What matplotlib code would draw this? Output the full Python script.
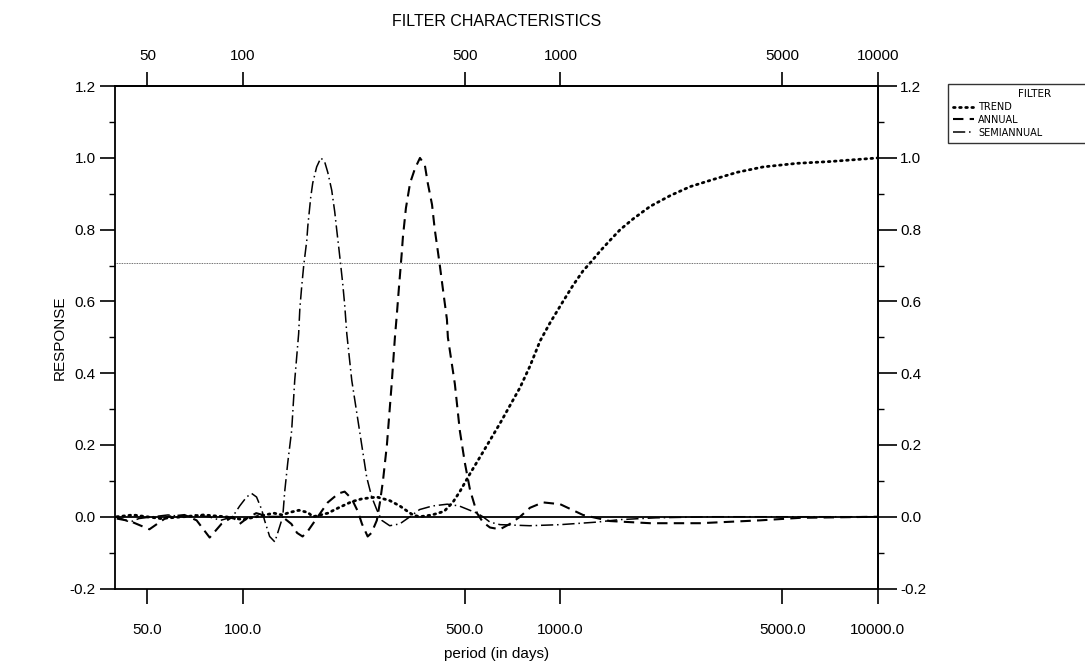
import matplotlib
matplotlib.use('Agg')
import matplotlib.pyplot as plt
from matplotlib.ticker import FixedLocator, NullLocator, MultipleLocator

plt.rcParams['font.family'] = ['Liberation Sans', 'DejaVu Sans']

# trend filter (low pass)
trend_period = [40, 45, 55, 65, 75, 88, 100, 110, 125, 133,
                140, 150, 160, 166, 185, 200, 220, 237, 264, 290,
                312, 330, 343, 360, 394, 430, 458, 482, 519, 570,
                645, 746, 802, 863, 927, 1019, 1096, 1178, 1240, 1333,
                1432, 1542, 1694, 1918, 2218, 2564, 3030, 3606, 4356, 5574,
                7085, 10000]
trend_resp = [0.0, 0.005, -0.005, 0.0, 0.005, 0.0, -0.008, 0.0, 0.01, 0.005,
              0.012, 0.018, 0.012, 0.0, 0.01, 0.025, 0.042, 0.05, 0.055, 0.045,
              0.03, 0.015, 0.005, 0.0, 0.005, 0.015, 0.04, 0.07, 0.12, 0.18,
              0.26, 0.36, 0.42, 0.49, 0.54, 0.60, 0.645, 0.685, 0.707, 0.74,
              0.77, 0.80, 0.83, 0.865, 0.895, 0.92, 0.94, 0.96, 0.975, 0.985,
              0.99, 1.0]

# annual band pass
annual_period = [40, 44, 50.7, 57.8, 65.4, 71.4, 78.5, 85.5, 92.7, 97.6,
                 102.6, 110, 121, 133, 142, 148, 154, 160, 172, 185,
                 200, 209, 220, 230, 237, 247, 254, 264, 270, 276,
                 284, 294, 301, 305, 310, 316, 319, 326, 336, 348,
                 361, 374, 382, 394, 402, 411, 417, 427, 439, 442,
                 465, 482, 500, 519, 546, 570, 600, 645, 693, 746,
                 802, 881, 998, 1178, 1432, 1918, 2754, 4266, 5700, 10000]
annual_resp = [-0.005, -0.012, -0.035, 0.0, 0.005, -0.01, -0.058, -0.02, 0.0, -0.02,
               -0.005, 0.01, 0.0, 0.0, -0.02, -0.045, -0.055, -0.04, 0.0, 0.04,
               0.065, 0.07, 0.05, 0.015, -0.02, -0.055, -0.045, -0.01, 0.04, 0.10,
               0.20, 0.37, 0.50, 0.56, 0.64, 0.73, 0.78, 0.86, 0.93, 0.97,
               1.0, 0.98, 0.93, 0.87, 0.80, 0.74, 0.70, 0.63, 0.55, 0.50,
               0.37, 0.24, 0.15, 0.075, 0.01, -0.015, -0.03, -0.035, -0.02, 0.0,
               0.025, 0.04, 0.035, 0.005, -0.012, -0.018, -0.018, -0.01, -0.003, 0.0]

# semiannual band pass
semi_period = [40, 44, 47, 52, 58, 65, 71, 78, 85, 92.7,
               97.6, 102.6, 106.4, 110.3, 114.5, 116.9, 121.3, 125.9, 128.6, 133.4,
               135.3, 138.3, 142.3, 145.5, 149.7, 151, 153, 155.3, 158.8, 160,
               163.4, 165.8, 170.6, 175.8, 180.7, 184.9, 190.3, 194.5, 197.3, 200.3,
               203.2, 206.1, 209.1, 212.3, 220.1, 228.2, 236.6, 245.3, 254.4, 263.8,
               273.6, 289.9, 311.7, 335.7, 360, 395, 440, 480, 546, 570,
               600, 645, 800, 1000, 1300, 1540, 2000, 3000, 10000]
semi_resp = [0.0, -0.015, -0.005, 0.0, 0.005, 0.0, 0.005, 0.0, -0.01, 0.0,
             0.03, 0.055, 0.065, 0.055, 0.02, -0.01, -0.055, -0.07, -0.045, 0.0,
             0.07, 0.15, 0.24, 0.38, 0.51, 0.58, 0.64, 0.70, 0.77, 0.81,
             0.89, 0.93, 0.975, 1.0, 0.99, 0.96, 0.91, 0.85, 0.80, 0.75,
             0.70, 0.65, 0.59, 0.51, 0.38, 0.29, 0.20, 0.11, 0.055, 0.02,
             -0.01, -0.025, -0.02, 0.0, 0.02, 0.03, 0.035, 0.03, 0.01, 0.0,
             -0.015, -0.022, -0.025, -0.022, -0.015, -0.008, -0.003, 0.0, 0.0]

half_power = 0.707

xticks = [50, 100, 500, 1000, 5000, 10000]
xlabels_bottom = ['50.0', '100.0', '500.0', '1000.0', '5000.0', '10000.0']
xlabels_top = ['50', '100', '500', '1000', '5000', '10000']
yticks = [-0.2, 0.0, 0.2, 0.4, 0.6, 0.8, 1.0, 1.2]
ylabels = ['-0.2', '0.0', '0.2', '0.4', '0.6', '0.8', '1.0', '1.2']

fig = plt.figure(figsize=(10.85, 6.68), dpi=100)
ax = fig.add_axes([0.106, 0.119, 0.703, 0.752])

ax.plot(trend_period, trend_resp, color='black', lw=2.0,
        linestyle=(0, (0.6, 1.6)), dash_capstyle='round', label='TREND')
ax.plot(annual_period, annual_resp, color='black', lw=1.5,
        linestyle=(0, (5, 3)), label='ANNUAL')
ax.plot(semi_period, semi_resp, color='black', lw=1.1,
        linestyle=(0, (8, 2.5, 1, 2.5)), label='SEMIANNUAL')

# zero line and half power line
ax.axhline(0.0, color='black', lw=1.3)
ax.axhline(half_power, color='0.25', lw=0.6, linestyle=(0, (1, 1)))

ax.set_xscale('log')
ax.set_xlim(39.5, 10000)
ax.set_ylim(-0.2, 1.2)

ax.xaxis.set_major_locator(FixedLocator(xticks))
ax.xaxis.set_minor_locator(NullLocator())
ax.set_xticklabels(xlabels_bottom)
ax.yaxis.set_major_locator(FixedLocator(yticks))
ax.yaxis.set_minor_locator(MultipleLocator(0.1))
ax.set_yticklabels(ylabels)

ax.tick_params(axis='both', which='major', direction='out', length=11, width=1.2,
               labelsize=11)
ax.tick_params(axis='y', which='minor', direction='out', length=4, width=1.0)
ax.tick_params(axis='x', which='major', pad=14)
ax.tick_params(axis='y', which='major', pad=3)

# top axis
top = ax.secondary_xaxis('top')
top.xaxis.set_major_locator(FixedLocator(xticks))
top.xaxis.set_minor_locator(NullLocator())
top.set_xticklabels(xlabels_top)
top.tick_params(direction='out', length=10, width=1.2, labelsize=11, pad=7)

# right axis
right = ax.secondary_yaxis('right')
right.yaxis.set_major_locator(FixedLocator(yticks))
right.yaxis.set_minor_locator(MultipleLocator(0.1))
right.set_yticklabels(ylabels)
right.tick_params(which='major', direction='out', length=14, width=1.2, labelsize=11, pad=2)
right.tick_params(which='minor', direction='out', length=4, width=1.0)

for sp in list(ax.spines.values()) + list(top.spines.values()) + list(right.spines.values()):
    sp.set_linewidth(1.3)

ax.set_xlabel('period (in days)', fontsize=11, labelpad=7)
ax.set_ylabel('RESPONSE', fontsize=11, labelpad=2)
top.set_xlabel('FILTER CHARACTERISTICS', fontsize=11.5, labelpad=16)

leg = ax.legend(loc='upper left', bbox_to_anchor=(948 / 1085, 0.774, 0.16, 0.1),
                bbox_transform=fig.transFigure, mode='expand',
                title='FILTER', prop={'family': 'DejaVu Sans', 'size': 7},
                title_fontproperties={'family': 'DejaVu Sans', 'size': 7.5},
                frameon=True, fancybox=False, edgecolor='black',
                handlelength=2.2, handletextpad=0.4, labelspacing=0.3,
                borderpad=0.5, borderaxespad=0.0)
leg.get_frame().set_linewidth(1.0)
leg._legend_box.align = 'center'

fig.savefig('out.png', dpi=100)
